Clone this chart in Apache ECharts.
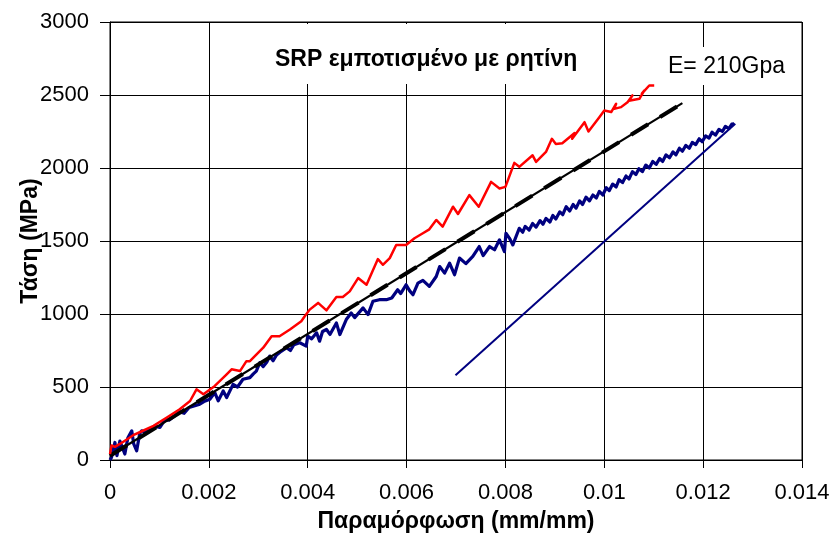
<!DOCTYPE html>
<html>
<head>
<meta charset="utf-8">
<script src="https://cdn.jsdelivr.net/npm/echarts@6/dist/echarts.min.js"></script>
<style>
  html, body { margin: 0; padding: 0; background: #fff; }
  #chart { width: 833px; height: 540px; }
</style>
</head>
<body>
<div id="chart"></div>
<script>
// Axis ticks
const xTicks = [0, 0.002, 0.004, 0.006, 0.008, 0.01, 0.012, 0.014];
const yTicks = [0, 500, 1000, 1500, 2000, 2500, 3000];

// Red specimen: strain (mm/mm) and stress (MPa)
const redX = [0, 0.00003, 0.0001, 0.0002, 0.00047, 0.0006, 0.00088, 0.00115, 0.00141, 0.00162,
  0.00175, 0.00189, 0.00212, 0.00236, 0.00246, 0.00263, 0.00276, 0.00283, 0.0031, 0.00327,
  0.00343, 0.00364, 0.00387, 0.00394, 0.00404, 0.00421, 0.00438, 0.00458, 0.00471, 0.00485,
  0.00502, 0.00519, 0.00542, 0.00552, 0.00566, 0.00579, 0.00599, 0.00616, 0.00633, 0.00646,
  0.0066, 0.00673, 0.00694, 0.00704, 0.00727, 0.00746, 0.00771, 0.00788, 0.008, 0.00818,
  0.00828, 0.00855, 0.00862, 0.00882, 0.00894, 0.00902, 0.00915, 0.0094, 0.00935, 0.0096,
  0.00968, 0.0099, 0.01, 0.01014, 0.01024, 0.0102, 0.01034, 0.01047, 0.01057, 0.0105,
  0.01071, 0.01081, 0.01076, 0.01091, 0.01101];
const redY = [40, 100, 90, 110, 170, 190, 234, 291, 348, 404,
  484, 450, 507, 587, 621, 609, 677, 677, 769, 848,
  848, 894, 950, 984, 1030, 1076, 1025, 1117, 1117, 1155,
  1246, 1200, 1376, 1337, 1383, 1473, 1473, 1519, 1553, 1580,
  1644, 1598, 1735, 1685, 1814, 1735, 1905, 1860, 1871, 2035,
  2008, 2087, 2042, 2110, 2200, 2165, 2170, 2240, 2200, 2314,
  2250, 2348, 2394, 2383, 2440, 2405, 2417, 2451, 2497, 2460,
  2474, 2531, 2510, 2565, 2565];

// Blue specimen: strain (mm/mm) and stress (MPa)
const blueX = [0, 0.00003, 0.0001, 0.00014, 0.0002, 0.00024, 0.0003, 0.00036, 0.00044, 0.00048,
  0.00054, 0.0006, 0.00064, 0.00072, 0.00081, 0.0009, 0.00101, 0.0011, 0.0012, 0.0013,
  0.0014, 0.0015, 0.0016, 0.0017, 0.0018, 0.0019, 0.00202, 0.00212, 0.00219, 0.00229,
  0.00236, 0.00249, 0.00258, 0.00269, 0.00283, 0.0029, 0.00296, 0.00303, 0.0031, 0.00317,
  0.00323, 0.0033, 0.00337, 0.00347, 0.00357, 0.00365, 0.00372, 0.00384, 0.00397, 0.004,
  0.00408, 0.00418, 0.00424, 0.0043, 0.00438, 0.00445, 0.00458, 0.00465, 0.00478, 0.00488,
  0.00495, 0.00512, 0.00522, 0.00532, 0.00545, 0.00559, 0.0057, 0.00582, 0.00588, 0.00599,
  0.00606, 0.00613, 0.00623, 0.00633, 0.00646, 0.0066, 0.00667, 0.00677, 0.00687, 0.00697,
  0.00707, 0.0072, 0.00734, 0.00747, 0.00755, 0.00768, 0.00778, 0.00788, 0.00798, 0.00801,
  0.00808, 0.00815, 0.00828, 0.00835, 0.0084, 0.00848, 0.00855, 0.00862, 0.0087, 0.00876,
  0.00882, 0.0089, 0.00896, 0.00902, 0.0091, 0.00916, 0.00923, 0.0093, 0.00937, 0.00943,
  0.0095, 0.00956, 0.00963, 0.0097, 0.00977, 0.00984, 0.0099, 0.00997, 0.01004, 0.0101,
  0.01017, 0.01024, 0.0103, 0.01037, 0.01044, 0.0105, 0.01057, 0.01064, 0.0107, 0.01077,
  0.01084, 0.01091, 0.01098, 0.01105, 0.01112, 0.01118, 0.01125, 0.01132, 0.01139, 0.01145,
  0.01152, 0.01158, 0.01165, 0.01172, 0.01178, 0.01185, 0.01192, 0.01198, 0.01205, 0.01212,
  0.01218, 0.01225, 0.01232, 0.01239, 0.01245, 0.01252, 0.01258, 0.01263];
const blueY = [0, 18, 120, 30, 130, 143, 41, 150, 200, 110,
  63, 180, 200, 190, 211, 230, 223, 270, 275, 300,
  330, 320, 360, 370, 380, 400, 416, 462, 405, 473,
  428, 518, 500, 553, 564, 590, 609, 666, 640, 670,
  711, 680, 720, 746, 769, 750, 790, 803, 780, 848,
  830, 871, 814, 880, 894, 860, 939, 859, 962, 1007,
  975, 1042, 996, 1087, 1098, 1098, 1110, 1166, 1140, 1200,
  1160, 1132, 1212, 1230, 1189, 1257, 1325, 1280, 1348, 1269,
  1383, 1345, 1394, 1462, 1400, 1462, 1440, 1508, 1428, 1553,
  1520, 1473, 1587, 1560, 1600, 1575, 1620, 1595, 1640, 1615,
  1655, 1630, 1675, 1650, 1700, 1680, 1735, 1705, 1750, 1725,
  1775, 1750, 1800, 1775, 1815, 1795, 1840, 1815, 1865, 1845,
  1890, 1870, 1920, 1900, 1945, 1925, 1975, 1955, 1995, 1975,
  2020, 2000, 2045, 2025, 2065, 2045, 2090, 2070, 2110, 2090,
  2135, 2115, 2155, 2135, 2175, 2160, 2200, 2180, 2220, 2205,
  2245, 2225, 2265, 2250, 2285, 2270, 2300, 2303];

// Linear fit (black)
const fitX = [0, 0.01158];
const fitY = [29, 2444];

// Elastic modulus reference line
const modX = [0.00699, 0.01265];
const modY = [580, 2303];

const chartTitle = 'SRP εμποτισμένο με ρητίνη';
const modLabel = 'E= 210Gpa';
const xName = 'Παραμόρφωση (mm/mm)';
const yName = 'Τάση (MPa)';

const zip = (xs, ys) => xs.map((x, i) => [x, ys[i]]);
const FONT = '"Liberation Sans", Arial, sans-serif';

const chart = echarts.init(document.getElementById('chart'), null, { renderer: 'canvas' });

const lineSeries = (name, xs, ys, color, width, type, z) => ({
  name, type: 'line', data: zip(xs, ys), showSymbol: false, symbol: 'none',
  lineStyle: { color, width, type: type || 'solid', cap: 'butt', join: 'round' },
  z: z || 2, silent: true, animation: false
});

chart.setOption({
  backgroundColor: '#fff',
  animation: false,
  textStyle: { fontFamily: FONT },
  title: [
    {
      text: chartTitle, left: 263, top: 24,
      padding: [24, 12, 13, 12], backgroundColor: '#fff',
      textStyle: { fontFamily: FONT, fontSize: 23, fontWeight: 'bold', color: '#000' }, z: 10
    },
    {
      text: modLabel, left: 660, top: 47,
      padding: [8, 8, 7, 8], backgroundColor: '#fff',
      textStyle: { fontFamily: FONT, fontSize: 23, fontWeight: 'normal', color: '#000' }, z: 10
    }
  ],
  grid: {
    left: 110, right: 31, top: 22, bottom: 80,
    show: true, borderColor: '#000', borderWidth: 1, backgroundColor: 'transparent'
  },
  xAxis: {
    type: 'value', min: xTicks[0], max: xTicks[xTicks.length - 1], interval: xTicks[1] - xTicks[0],
    name: xName, nameLocation: 'middle', nameGap: 50, nameMoveOverlap: false,
    nameTextStyle: { fontFamily: FONT, fontSize: 23, fontWeight: 'bold', color: '#000' },
    axisLine: { show: true, onZero: false, lineStyle: { color: '#000', width: 1 } },
    axisTick: { show: true, inside: false, length: 8, lineStyle: { color: '#000' } },
    axisLabel: {
      fontFamily: FONT, fontSize: 22, color: '#000', margin: 22,
      formatter: v => String(+v.toFixed(3))
    },
    splitLine: { show: true, lineStyle: { color: '#000', width: 1 } }
  },
  yAxis: {
    type: 'value', min: yTicks[0], max: yTicks[yTicks.length - 1], interval: yTicks[1] - yTicks[0],
    name: yName, nameLocation: 'middle', nameGap: 68, nameRotate: 90, nameMoveOverlap: false,
    nameTextStyle: { fontFamily: FONT, fontSize: 23, fontWeight: 'bold', color: '#000' },
    axisLine: { show: true, onZero: false, lineStyle: { color: '#000', width: 1 } },
    axisTick: { show: true, inside: false, length: 10, lineStyle: { color: '#000' } },
    axisLabel: {
      fontFamily: FONT, fontSize: 22, color: '#000', margin: 21,
      formatter: v => String(v)
    },
    splitLine: { show: true, lineStyle: { color: '#000', width: 1 } }
  },
  series: [
    lineSeries('modulus', modX, modY, '#000080', 2, 'solid', 2),
    lineSeries('blue', blueX, blueY, '#000080', 3.2, 'solid', 3),
    lineSeries('fit', fitX, fitY, '#000000', 2.2, 'solid', 4),
    lineSeries('fit-dash', fitX, fitY, '#000000', 4, [20, 14], 5),
    lineSeries('red', redX, redY, '#FF0000', 2.5, 'solid', 6)
  ]
});
</script>
</body>
</html>
